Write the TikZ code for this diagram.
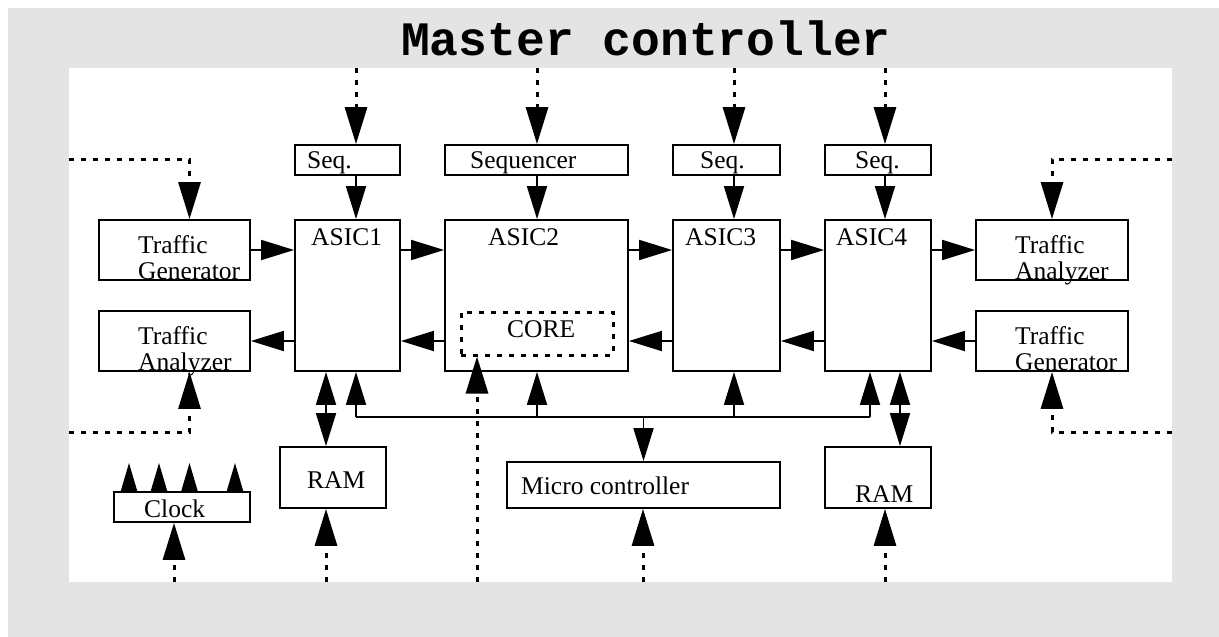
\documentclass[tikz,border=0pt]{standalone}
\usepackage{fontspec}
\setmainfont{Liberation Serif}
\setmonofont{Liberation Mono}
\usetikzlibrary{arrows.meta}
\definecolor{bggray}{HTML}{E4E4E4}
\begin{document}
\begin{tikzpicture}[x=1pt,y=-1pt,
  box/.style={draw, line width=1.8pt, inner sep=0pt},
  corebox/.style={draw, line width=3pt, dash pattern=on 5pt off 7pt, inner sep=0pt},
  txt/.style={font=\fontsize{25.5}{27}\selectfont, inner sep=0pt, anchor=base west},
  ttl/.style={font=\fontsize{48}{50}\selectfont\ttfamily\bfseries, inner sep=0pt, anchor=base},
  arr/.style={line width=1.8pt, -{Triangle[length=33pt,width=20pt]}},
  darr/.style={line width=1.8pt, {Triangle[length=33pt,width=20pt]}-{Triangle[length=33pt,width=20pt]}},
  clk/.style={line width=1.8pt, -{Triangle[length=28pt,width=16pt]}},
  dotarr/.style={line width=3pt, dash pattern=on 5pt off 7pt, -{Triangle[length=37pt,width=22pt]}},
]
\useasboundingbox (0,0) rectangle (1219,637);
\fill[bggray] (8,8) rectangle (1219,637);
\fill[white] (69,68) rectangle (1172,582);

\node[ttl] (title) at (646,55) {Master controller};

% boxes
\node[box, minimum width=105pt, minimum height=30pt] (seqA) at (347.5,160) {};
\node[box, minimum width=183pt, minimum height=30pt] (seqB) at (536.5,160) {};
\node[box, minimum width=107pt, minimum height=30pt] (seqC) at (726.5,160) {};
\node[box, minimum width=106pt, minimum height=30pt] (seqD) at (878,160) {};
\node[box, minimum width=105pt, minimum height=151pt] (asic1) at (347.5,295.5) {};
\node[box, minimum width=183pt, minimum height=151pt] (asic2) at (536.5,295.5) {};
\node[box, minimum width=107pt, minimum height=151pt] (asic3) at (726.5,295.5) {};
\node[box, minimum width=106pt, minimum height=151pt] (asic4) at (878,295.5) {};
\node[box, minimum width=151pt, minimum height=60pt] (tgL) at (174.5,250) {};
\node[box, minimum width=151pt, minimum height=60pt] (taL) at (174.5,341) {};
\node[box, minimum width=152pt, minimum height=60pt] (taR) at (1052,250) {};
\node[box, minimum width=152pt, minimum height=60pt] (tgR) at (1052,341) {};
\node[corebox, minimum width=152pt, minimum height=43pt] (core) at (537,333.5) {};
\node[box, minimum width=106pt, minimum height=61pt] (ram1) at (333,477.5) {};
\node[box, minimum width=136pt, minimum height=30pt] (clock) at (182,507) {};
\node[box, minimum width=273pt, minimum height=46pt] (micro) at (643.5,485) {};
\node[box, minimum width=106pt, minimum height=61pt] (ram2) at (878,477.5) {};

% texts
\node[txt] (tsA) at (307,168) {Seq.};
\node[txt] (tsB) at (470,168) {Sequencer};
\node[txt] (tsC) at (700,168) {Seq.};
\node[txt] (tsD) at (855,168) {Seq.};
\node[txt] (ta1) at (311,245) {ASIC1};
\node[txt] (ta2) at (488,245) {ASIC2};
\node[txt] (ta3) at (685,245) {ASIC3};
\node[txt] (ta4) at (836,245) {ASIC4};
\node[txt] (ttgL1) at (138,253) {Traffic};
\node[txt] (ttgL2) at (138,279) {Generator};
\node[txt] (ttaL1) at (138,344) {Traffic};
\node[txt] (ttaL2) at (138,370) {Analyzer};
\node[txt] (ttaR1) at (1015,253) {Traffic};
\node[txt] (ttaR2) at (1015,279) {Analyzer};
\node[txt] (ttgR1) at (1015,344) {Traffic};
\node[txt] (ttgR2) at (1015,370) {Generator};
\node[txt] (tcore) at (507,337) {CORE};
\node[txt] (tram1) at (307,488) {RAM};
\node[txt] (tram2) at (855,502) {RAM};
\node[txt] (tclock) at (144,517) {Clock};
\node[txt] (tmicro) at (521,494) {Micro controller};

% free ends
\coordinate (inA) at (356,68);
\coordinate (inB) at (537,68);
\coordinate (inC) at (734,68);
\coordinate (inD) at (885,68);
\coordinate (inTGL) at (69,159);
\coordinate (inTAR) at (1172,159);
\coordinate (inTAL) at (69,432);
\coordinate (inTGR) at (1172,432);
\coordinate (inClk) at (174,582);
\coordinate (inRam1) at (326,582);
\coordinate (inCore) at (477,582);
\coordinate (inMicro) at (643,582);
\coordinate (inRam2) at (885,582);

% dotted inputs
\draw[dotarr] (inA) -- (seqA.north -| inA);
\draw[dotarr] (inB) -- (seqB.north -| inB);
\draw[dotarr] (inC) -- (seqC.north -| inC);
\draw[dotarr] (inD) -- (seqD.north -| inD);
\draw[dotarr] (inTGL) -| (tgL.north -| 189.5,0);
\draw[dotarr] (inTAR) -| (taR.north);
\draw[dotarr] (inTAL) -| (taL.south -| 189.5,0);
\draw[dotarr] (inTGR) -| (tgR.south);
\draw[dotarr] (inClk) -- (clock.south -| inClk);
\draw[dotarr] (inRam1) -- (ram1.south -| inRam1);
\draw[dotarr] (inCore) -- (core.south -| inCore);
\draw[dotarr] (inMicro) -- (micro.south -| inMicro);
\draw[dotarr] (inRam2) -- (ram2.south -| inRam2);

% sequencer to asic
\draw[arr] (seqA.south -| inA) -- (asic1.north -| inA);
\draw[arr] (seqB.south -| inB) -- (asic2.north -| inB);
\draw[arr] (seqC.south -| inC) -- (asic3.north -| inC);
\draw[arr] (seqD.south -| inD) -- (asic4.north -| inD);

% forward chain
\draw[arr] (tgL.east) -- (asic1.west |- tgL.east);
\draw[arr] (asic1.east |- 0,250) -- (asic2.west |- 0,250);
\draw[arr] (asic2.east |- 0,250) -- (asic3.west |- 0,250);
\draw[arr] (asic3.east |- 0,250) -- (asic4.west |- 0,250);
\draw[arr] (asic4.east |- 0,250) -- (taR.west);

% return chain
\draw[arr] (asic1.west |- taL.east) -- (taL.east);
\draw[arr] (asic2.west |- 0,341) -- (asic1.east |- 0,341);
\draw[arr] (asic3.west |- 0,341) -- (asic2.east |- 0,341);
\draw[arr] (asic4.west |- 0,341) -- (asic3.east |- 0,341);
\draw[arr] (tgR.west) -- (asic4.east |- tgR.west);

% RAM links
\draw[darr] (asic1.south -| 326,0) -- (ram1.north -| 326,0);
\draw[darr] (asic4.south -| 900,0) -- (ram2.north -| 900,0);

% bus
\coordinate (busL) at (356,417);
\coordinate (busR) at (870,417);
\draw[line width=1.8pt] (busL) -- (busR);
\draw[arr] (busL) -- (asic1.south -| busL);
\draw[arr] (busL -| inB) -- (asic2.south -| inB);
\draw[arr] (busL -| inC) -- (asic3.south -| inC);
\draw[arr] (busR) -- (asic4.south -| busR);
\draw[arr] (busL -| micro.north) -- (micro.north);

% clock outputs
\foreach \x/\n in {129/a,159/b,189.5/c,235/d}{
  \coordinate (clk\n) at (\x,463);
  \draw[clk] (clock.north -| clk\n) -- (clk\n);
}
\end{tikzpicture}
\end{document}
